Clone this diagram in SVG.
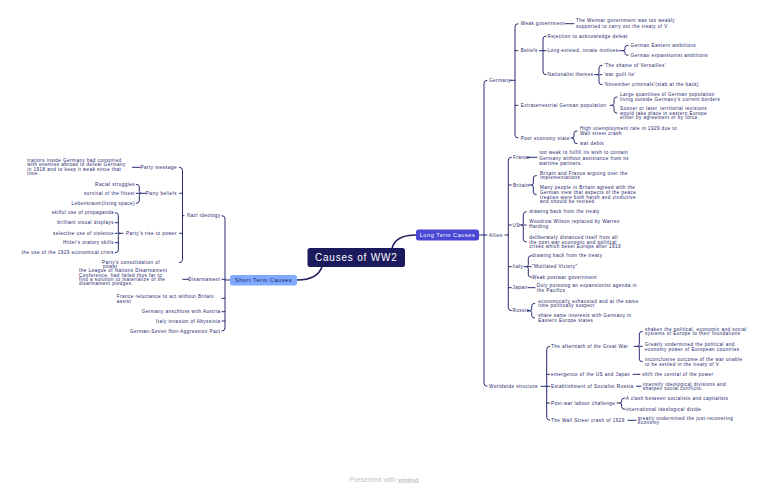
<svg xmlns="http://www.w3.org/2000/svg" width="768" height="489" viewBox="0 0 768 489">
<style>
.t{font-family:"Liberation Sans",Arial,sans-serif;font-size:4.6px;letter-spacing:0.45px;fill:#23236b;dominant-baseline:central}
.e{text-anchor:end}
.ln{fill:none;stroke:#2a2a70;stroke-width:1;stroke-linecap:round;stroke-linejoin:round}
.mn{fill:none;stroke:#1f1f5e;stroke-width:1.6;stroke-linecap:round}
.bt{font-family:"Liberation Sans",Arial,sans-serif;font-size:5.6px;letter-spacing:0.55px;text-anchor:middle;dominant-baseline:central}
</style>
<rect width="768" height="489" fill="#ffffff"/>
<g id="connectors">
<path class="mn" d="M392,248.5 C394,240 402,235 416,235"/>
<path class="mn" d="M322,266.5 C319,276 310,280 297,280"/>
<!-- long term -->
<path class="ln" d="M479,235 H484 M487,80.3 Q484,80.3 484,83.3 V383.3 Q484,386.3 487,386.3 M484,235 h3"/>
<path class="ln" d="M510,80.3 H515 M518,23.7 Q515,23.7 515,26.7 V135 Q515,138 518,138 M515,50.7 h3 M515,105.3 h3"/>
<path class="ln" d="M565,23.7 H574"/>
<path class="ln" d="M539.5,50.7 H543 M546,36 Q543,36 543,39 V71.7 Q543,74.7 546,74.7 M543,50.7 h3"/>
<path class="ln" d="M619,50.7 H623 M628,45.3 Q625,45.3 625,47.3 V48.7 Q625,50.7 623,50.7 Q625,50.7 625,52.7 V53.3 Q625,55.3 628,55.3"/>
<path class="ln" d="M594.5,74.7 H597 M602,65.3 Q599,65.3 599,67.8 V72.7 Q599,74.7 597,74.7 Q599,74.7 599,76.7 V82.2 Q599,84.7 602,84.7 M599,74.7 h3"/>
<path class="ln" d="M610,105.3 H612 M617,96.9 Q614,96.9 614,99.4 V103.3 Q614,105.3 612,105.3 Q614,105.3 614,107.3 V110.7 Q614,113.2 617,113.2"/>
<path class="ln" d="M571,138 H572 M577,130.9 Q574,130.9 574,133.4 V136 Q574,138 572,138 Q574,138 574,140 V141.2 Q574,143.7 577,143.7"/>
<path class="ln" d="M505,235 H508.3 M511.3,157.3 Q508.3,157.3 508.3,160.3 V307.7 Q508.3,310.7 511.3,310.7 M508.3,185 h3 M508.3,225 h3 M508.3,266.7 h3 M508.3,287.7 h3"/>
<path class="ln" d="M526.5,157.3 H537"/>
<path class="ln" d="M529,185 H531.3 M536.3,175.5 Q533.3,175.5 533.3,178 V183 Q533.3,185 531.3,185 Q533.3,185 533.3,187 V192.2 Q533.3,194.7 536.3,194.7"/>
<path class="ln" d="M519.5,225 H521.3 M526.3,211.7 Q523.3,211.7 523.3,214.2 V223 Q523.3,225 521.3,225 Q523.3,225 523.3,227 V239.5 Q523.3,242 526.3,242 M523.3,225 h3"/>
<path class="ln" d="M524,266.7 H526.3 M531.3,255.7 Q528.3,255.7 528.3,258.2 V264.7 Q528.3,266.7 526.3,266.7 Q528.3,266.7 528.3,268.7 V274.8 Q528.3,277.3 531.3,277.3 M528.3,266.7 h3"/>
<path class="ln" d="M528,287.7 H535"/>
<path class="ln" d="M527.5,310.7 H529.7 M534.7,303.3 Q531.7,303.3 531.7,305.8 V308.7 Q531.7,310.7 529.7,310.7 Q531.7,310.7 531.7,312.7 V315.5 Q531.7,318 534.7,318"/>
<path class="ln" d="M541,386.3 H546.7 M549.7,346.3 Q546.7,346.3 546.7,349.3 V417.3 Q546.7,420.3 549.7,420.3 M546.7,374.3 h3 M546.7,386.3 h3 M546.7,403 h3"/>
<path class="ln" d="M634,346.3 H637.3 M642.3,331.5 Q639.3,331.5 639.3,334 V344.3 Q639.3,346.3 637.3,346.3 Q639.3,346.3 639.3,348.3 V359.2 Q639.3,361.7 642.3,361.7 M639.3,346.3 h3"/>
<path class="ln" d="M633,374.3 H640 M636.5,386.2 H641"/>
<path class="ln" d="M617,403 H619.7 M624.7,398 Q621.7,398 621.7,400.5 V401 Q621.7,403 619.7,403 Q621.7,403 621.7,405 V406.8 Q621.7,409.3 624.7,409.3"/>
<path class="ln" d="M628,420.3 H636"/>
<!-- short term -->
<path class="ln" d="M230,280 H225 M222,215.7 Q225,215.7 225,218.7 V328 Q225,331 222,331 M225,279.3 h-3 M225,298.3 h-3 M225,311.7 h-3 M225,321 h-3"/>
<path class="ln" d="M184,215.7 H182.5 M179.5,167.3 Q182.5,167.3 182.5,170.3 V259.7 Q182.5,262.7 179.5,262.7 M182.5,193.3 h-3 M182.5,233.3 h-3"/>
<path class="ln" d="M140,167.3 H132.3"/>
<path class="ln" d="M145.5,193.3 H141.3 M136.3,184.3 Q139.3,184.3 139.3,186.8 V191.3 Q139.3,193.3 141.3,193.3 Q139.3,193.3 139.3,195.3 V200.8 Q139.3,203.3 136.3,203.3 M139.3,193.3 h-3"/>
<path class="ln" d="M123,233.3 H120.3 M115.3,212.7 Q118.3,212.7 118.3,215.2 V231.3 Q118.3,233.3 120.3,233.3 Q118.3,233.3 118.3,235.3 V250.2 Q118.3,252.7 115.3,252.7 M118.3,222.7 h-3 M118.3,233.3 h-3 M118.3,242.7 h-3"/>
<path class="ln" d="M189,279.3 H182.7"/>
</g>
<g id="central">
<rect x="307.5" y="248" width="97.5" height="19" rx="2.5" fill="#1a1a5c"/>
<text x="356.3" y="257.6" style="font-family:'Liberation Sans',Arial,sans-serif;font-size:10px;letter-spacing:0.8px;fill:#ffffff;text-anchor:middle;dominant-baseline:central">Causes of WW2</text>
</g>
<g id="long-term">
<rect x="416" y="229.5" width="63" height="11" rx="2.5" fill="#4848d4"/>
<text class="bt" x="447.5" y="235.2" fill="#ffffff">Long Term Causes</text>
</g>
<g id="short-term">
<rect x="230" y="275" width="67" height="10.5" rx="2.5" fill="#80aaff"/>
<text class="bt" x="263.5" y="280.3" fill="#1e1e66">Short Term Causes</text>
</g>
<g id="germany">
<text class="t" x="489" y="80.3">Germany</text>
</g>
<g id="weak-government">
<text class="t" x="520.7" y="23.7">Weak government</text>
<text class="t" x="576" y="20.8">The Weimar government was too weakly</text>
<text class="t" x="576" y="26">supported to carry out the treaty of V</text>
</g>
<g id="beliefs">
<text class="t" x="520.7" y="50.7">Beliefs</text>
<text class="t" x="547.5" y="36">Rejection to acknowledge defeat</text>
<text class="t" x="547.5" y="50.7">Long-existed, innate motives</text>
<text class="t" x="630.5" y="45.3">German Eastern ambitions</text>
<text class="t" x="630.5" y="55.3">German expansionist ambitions</text>
<text class="t" x="547.5" y="74.7">Nationalist themes</text>
<text class="t" x="604" y="65.3">'The shame of Versailles'</text>
<text class="t" x="604" y="74.7">'war guilt lie'</text>
<text class="t" x="604" y="84.7">'November criminals'(stab at the back)</text>
</g>
<g id="extraterrestrial">
<text class="t" x="520.7" y="105.3">Extraterrestrial German population</text>
<text class="t" x="620" y="94.6">Large quantities of German population</text>
<text class="t" x="620" y="99.2">living outside Germany's current borders</text>
<text class="t" x="620" y="108.6">Sooner or later, territorial revisions</text>
<text class="t" x="620" y="113.2">would take place in eastern Europe</text>
<text class="t" x="620" y="117.8">either by agreement or by force</text>
</g>
<g id="poor-economy">
<text class="t" x="520.7" y="138">Poor economy state</text>
<text class="t" x="580" y="128.7">High unemployment rate in 1929 due to</text>
<text class="t" x="580" y="133.2">Wall street crash</text>
<text class="t" x="580" y="143.7">war debts</text>
</g>
<g id="allies">
<text class="t" x="489" y="235">Allies</text>
</g>
<g id="france">
<text class="t" x="513" y="157.3">France</text>
<text class="t" x="539.3" y="152.7">too weak to fulfill its wish to contain</text>
<text class="t" x="539.3" y="158.2">Germany without assistance from its</text>
<text class="t" x="539.3" y="163.7">wartime partners.</text>
</g>
<g id="britain">
<text class="t" x="513" y="185">Britain</text>
<text class="t" x="540" y="173.3">Britain and France arguing over the</text>
<text class="t" x="540" y="177.7">implementations</text>
<text class="t" x="540" y="187.7">Many people in Britain agreed with the</text>
<text class="t" x="540" y="192.3">German view that aspects of the peace</text>
<text class="t" x="540" y="197">treaties were both harsh and vindictive</text>
<text class="t" x="540" y="201.7">and should be revised</text>
</g>
<g id="us">
<text class="t" x="512.5" y="225">US</text>
<text class="t" x="529.3" y="211.7">drawing back from the treaty</text>
<text class="t" x="529.3" y="221.7">Woodrow Wilson replaced by Warren</text>
<text class="t" x="529.3" y="226.5">Harding</text>
<text class="t" x="529.3" y="237.3">deliberately distanced itself from all</text>
<text class="t" x="529.3" y="242">the post-war economic and political</text>
<text class="t" x="529.3" y="246.7">crises which beset Europe after 1919</text>
</g>
<g id="italy">
<text class="t" x="512.5" y="266.7">Italy</text>
<text class="t" x="532" y="255.7">drawing back from the treaty</text>
<text class="t" x="532" y="266.7">"Mutilated Victory"</text>
<text class="t" x="532" y="277.3">Weak postwar government</text>
</g>
<g id="japan">
<text class="t" x="512.5" y="287.7">Japan</text>
<text class="t" x="536.7" y="285.5">Duly pursuing an expansionist agenda in</text>
<text class="t" x="536.7" y="290.5">the Pacifics</text>
</g>
<g id="russia">
<text class="t" x="512.5" y="310.7">Russia</text>
<text class="t" x="538.3" y="301">economically exhausted and at the same</text>
<text class="t" x="538.3" y="305.7">time politically suspect</text>
<text class="t" x="538.3" y="315.7">share same interests with Germany in</text>
<text class="t" x="538.3" y="320.3">Eastern Europe states</text>
</g>
<g id="worldwide">
<text class="t" x="489" y="386.3">Worldwide structure</text>
</g>
<g id="aftermath">
<text class="t" x="551" y="346.3">The aftermath of the Great War</text>
<text class="t" x="645" y="329.3">shaken the political, economic and social</text>
<text class="t" x="645" y="333.8">systems of Europe to their foundations</text>
<text class="t" x="645" y="344.3">Greatly undermined the political and</text>
<text class="t" x="645" y="349">economy power of European countries</text>
<text class="t" x="645" y="359.3">inconclusive outcome of the war unable</text>
<text class="t" x="645" y="364">to be settled in the treaty of V</text>
</g>
<g id="emergence">
<text class="t" x="551" y="374.3">emergence of the US and Japan</text>
<text class="t" x="642.3" y="374.3">shift the central of the power</text>
</g>
<g id="socialist-russia">
<text class="t" x="551" y="386.2">Establishment of Socialist Russia</text>
<text class="t" x="642.7" y="384">intensify ideological divisions and</text>
<text class="t" x="642.7" y="388.4">sharpen social conflicts.</text>
</g>
<g id="labour">
<text class="t" x="551" y="403">Post-war labour challenge</text>
<text class="t" x="625.7" y="398">A clash between socialists and capitalists</text>
<text class="t" x="625.7" y="409.3">international ideological divide</text>
</g>
<g id="wall-street">
<text class="t" x="551" y="420.3">The Wall Street crash of 1929</text>
<text class="t" x="637.7" y="418">greatly undermined the just-recovering</text>
<text class="t" x="637.7" y="422.6">economy</text>
</g>
<g id="nazi-ideology">
<text class="t e" x="220.5" y="215.7">Nazi ideology</text>
</g>
<g id="party-message">
<text class="t e" x="177" y="167.3">Party message</text>
<text class="t" x="27.3" y="160">traitors inside Germany had conspired</text>
<text class="t" x="27.3" y="164.5">with enemies abroad to defeat Germany</text>
<text class="t" x="27.3" y="169">in 1918 and to keep it weak since that</text>
<text class="t" x="27.3" y="173.5">time.</text>
</g>
<g id="party-beliefs">
<text class="t e" x="177" y="193.3">Party beliefs</text>
<text class="t e" x="135" y="184.3">Racial struggles</text>
<text class="t e" x="135" y="193.3">survival of the fittest</text>
<text class="t e" x="135" y="203.3">Lebensraum(living space)</text>
</g>
<g id="party-rise">
<text class="t e" x="177" y="233.3">Party's rise to power</text>
<text class="t e" x="114" y="212.7">skilful use of propaganda</text>
<text class="t e" x="114" y="222.7">brilliant visual displays</text>
<text class="t e" x="114" y="233.3">selective use of violence</text>
<text class="t e" x="114" y="242.7">Hitler's oratory skills</text>
<text class="t e" x="114" y="252.7">the use of the 1929 economical crisis</text>
</g>
<g id="party-consolidation">
<text class="t" x="102" y="262.8">Party's consolidation of</text>
<text class="t" x="103" y="266.6">power</text>
</g>
<g id="disarmament">
<text class="t e" x="220.5" y="279.3">Disarmament</text>
<text class="t" x="79" y="270.7">the League of Nations Disarmament</text>
<text class="t" x="79" y="275.1">Conference, had failed thus far to</text>
<text class="t" x="79" y="279.5">find a solution to materialize of the</text>
<text class="t" x="79" y="283.9">disarmament pledges.</text>
</g>
<g id="france-reluctance">
<text class="t" x="116.7" y="296.7">France reluctance to act without Britain</text>
<text class="t" x="116.7" y="301.3">assist</text>
</g>
<g id="anschluss">
<text class="t e" x="220.5" y="311.7">Germany anschluss with Austria</text>
</g>
<g id="abyssinia">
<text class="t e" x="220.5" y="321">Italy invasion of Abyssinia</text>
</g>
<g id="pact">
<text class="t e" x="220.5" y="331">German-Soviet Non-Aggression Pact</text>
</g>
<g id="footer">
<text x="384" y="479.5" style="font-family:'Liberation Sans',Arial,sans-serif;font-size:7px;fill:#c4c4c4;text-anchor:middle;dominant-baseline:central">Presented with <tspan font-weight="bold">xmind</tspan></text>
</g>
</svg>
